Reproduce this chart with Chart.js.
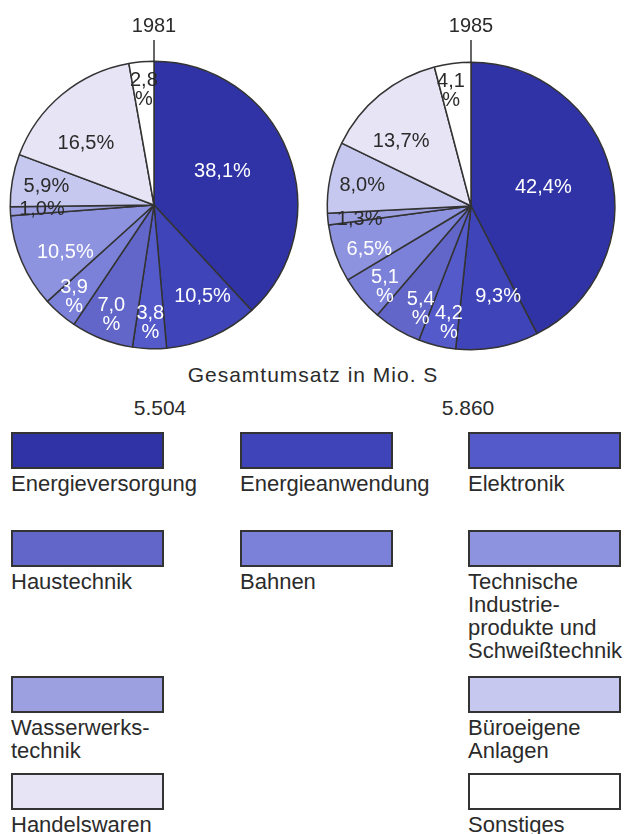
<!DOCTYPE html>
<html lang="de">
<head>
<meta charset="utf-8">
<title>Umsatz nach Sparten 1981 / 1985</title>
<script src="https://cdn.jsdelivr.net/npm/chart.js@4.4.1/dist/chart.umd.min.js"></script>
<style>
  html, body { margin: 0; padding: 0; background: #fff; }
  body {
    width: 631px; height: 834px; position: relative; overflow: hidden;
    font-family: "Liberation Sans", Arial, sans-serif; color: #2b2b2b;
  }
  canvas { position: absolute; top: 0; }
  #pie1981 { left: 0; }
  #pie1985 { left: 316px; }
  .txt {
    position: absolute; font-size: 22px; line-height: 23px;
    white-space: pre;
  }
  .centered { transform: translateX(-50%); }
  .swatch {
    position: absolute; width: 153px; height: 37px;
    box-sizing: border-box; border: 2px solid #333;
  }
</style>
</head>
<body>
<canvas id="pie1981" width="315" height="360"></canvas>
<canvas id="pie1985" width="315" height="360"></canvas>

<script>
const categories = [
  'Energieversorgung',
  'Energieanwendung',
  'Elektronik',
  'Haustechnik',
  'Bahnen',
  'Technische\nIndustrie-\nprodukte und\nSchweißtechnik',
  'Wasserwerks-\ntechnik',
  'Büroeigene\nAnlagen',
  'Handelswaren',
  'Sonstiges'
];
const years = ['1981', '1985'];
const shares1981 = [38.1, 10.5, 3.8, 7.0, 3.9, 10.5, 1.0, 5.9, 16.5, 2.8];
const shares1985 = [42.4, 9.3, 4.2, 5.4, 5.1, 6.5, 1.3, 8.0, 13.7, 4.1];
const totals = [5504, 5860];   // Gesamtumsatz in Mio. S

const colors = [
  '#2f33a6', '#3f44b8', '#555aca', '#6166c8', '#7b80d8',
  '#8e93e0', '#9da0e0', '#c6c8ef', '#e6e4f5', '#ffffff'
];
const ink = '#2b2b2b';
const stackedLabels = [2, 3, 4, 9];   // narrow slices: "%" goes on a second line
const darkTextFrom = 6;              // lighter slices get dark text

// label placement per slice: [angle shift in degrees, radius fraction]
const placement1981 = [
  [-4.6, .53], [-4, .72], [0, .82], [0, .82], [0, .85],
  [-5, .70], [0, .78], [0, .76], [-8, .64], [0, .80]
];
const placement1985 = [
  [-1, .52], [-6, .66], [-3, .83], [-5, .80], [-3, .82],
  [-4, .77], [-1.5, .78], [-1, .77], [-8, .66], [-2.5, .81]
];

const FONT = '"Liberation Sans", Arial, sans-serif';

// year above each pie with a short stem, plus the percentages inside the slices
const pieDecor = {
  id: 'pieDecor',
  afterDatasetsDraw(chart, args, opts) {
    const ctx = chart.ctx;
    const arcs = chart.getDatasetMeta(0).data;
    const values = chart.data.datasets[0].data;
    const { x: cx, y: cy, outerRadius } = arcs[0].getProps(['x', 'y', 'outerRadius'], true);

    ctx.save();
    ctx.fillStyle = ink;
    ctx.textAlign = 'center';
    ctx.textBaseline = 'alphabetic';
    ctx.font = '20px ' + FONT;
    ctx.fillText(opts.year, cx, 32);

    ctx.strokeStyle = '#333';
    ctx.lineWidth = 1.5;
    ctx.beginPath();
    ctx.moveTo(cx, 40);
    ctx.lineTo(cx, cy - outerRadius);
    ctx.stroke();

    ctx.font = '20px ' + FONT;
    ctx.textBaseline = 'middle';
    arcs.forEach((arc, i) => {
      const { startAngle, endAngle } = arc.getProps(['startAngle', 'endAngle'], true);
      const [shift, frac] = opts.placement[i];
      const a = (startAngle + endAngle) / 2 + shift * Math.PI / 180;
      const x = cx + Math.cos(a) * outerRadius * frac;
      const y = cy + Math.sin(a) * outerRadius * frac;
      const num = values[i].toFixed(1).replace('.', ',');
      ctx.fillStyle = i < darkTextFrom ? '#ffffff' : ink;
      if (stackedLabels.includes(i)) {
        ctx.fillText(num, x, y - 9.5);
        ctx.fillText('%', x, y + 9.5);
      } else {
        ctx.fillText(num + '%', x, y);
      }
    });
    ctx.restore();
  }
};

function makePie(canvasId, year, shares, padding, placement) {
  return new Chart(document.getElementById(canvasId), {
    type: 'pie',
    data: {
      labels: categories,
      datasets: [{
        data: shares,
        backgroundColor: colors,
        borderColor: '#333',
        borderWidth: 1.5
      }]
    },
    options: {
      responsive: false,
      animation: false,
      layout: { padding },
      plugins: {
        legend: { display: false },
        tooltip: { enabled: false },
        pieDecor: { year, placement }
      }
    },
    plugins: [pieDecor]
  });
}

makePie('pie1981', years[0], shares1981,
  { left: 9.5, top: 60.5, right: 16.5, bottom: 10.5 }, placement1981);
makePie('pie1985', years[1], shares1985,
  { left: 10.5, top: 61.5, right: 15.5, bottom: 9.5 }, placement1985);

// caption, totals and the legend grid
const body = document.body;
function addText(str, left, baseline, centered, size) {
  const px = size || 22;
  const el = document.createElement('div');
  el.className = 'txt' + (centered ? ' centered' : '');
  el.textContent = str;
  el.style.fontSize = px + 'px';
  el.style.left = left + 'px';
  // baseline inside a 23px line box for Liberation Sans
  el.style.top = (baseline - ((23 - 1.117 * px) / 2 + 0.905 * px)) + 'px';
  body.appendChild(el);
  return el;
}

const caption = addText('Gesamtumsatz in Mio. S', 313, 382, true, 21);
caption.style.letterSpacing = '1px';
const fmt = n => n.toLocaleString('de-DE');
addText(fmt(totals[0]), 160, 415, true, 21);
addText(fmt(totals[1]), 468, 415, true, 21);

const colX = [11, 240, 468];
const rowY = [432, 530, 676, 773];
const legendCells = [[0, 0], [0, 1], [0, 2], [1, 0], [1, 1], [1, 2], [2, 0], [2, 2], [3, 0], [3, 2]];

categories.forEach((name, i) => {
  const [row, col] = legendCells[i];
  const sw = document.createElement('div');
  sw.className = 'swatch';
  sw.style.left = colX[col] + 'px';
  sw.style.top = rowY[row] + 'px';
  sw.style.background = colors[i];
  body.appendChild(sw);
  addText(name, colX[col], rowY[row] + 37 + 22, false, 22);
});
</script>
</body>
</html>
